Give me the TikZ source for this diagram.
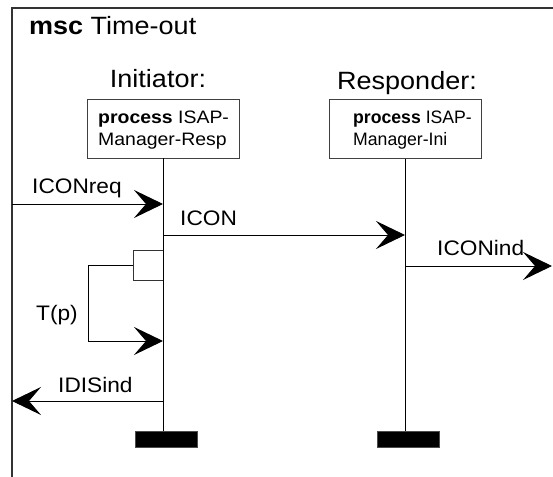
\documentclass[tikz,border=0pt]{standalone}
\usepackage{fontspec}
\usepackage{graphicx}
\setmainfont{Liberation Sans}
\usetikzlibrary{arrows.meta}
% lettering widened (or narrowed) horizontally
\newcommand\stretchx[2][1.08]{\scalebox{#1}[1]{#2}}

\begin{document}
\begin{tikzpicture}[x=1pt,y=-1pt,
  lbl/.style={inner sep=0pt, anchor=base west},
  clbl/.style={inner sep=0pt, anchor=base},
  big/.style={font=\fontsize{25}{30}\selectfont},
  mid/.style={font=\fontsize{21}{25}\selectfont},
  small/.style={font=\fontsize{18}{22}\selectfont},
  procbox/.style={draw=black!75, line width=0.9pt, minimum width=152pt,
    minimum height=59pt, inner sep=0pt},
  lifeline/.style={line width=0.9pt},
  msg/.style={line width=0.9pt, -{Stealth[length=29pt,width=28pt,inset=12pt]}},
  timerline/.style={line width=0.9pt, draw=black!80},
  endbar/.style={fill=black, draw=black!70, line width=0.5pt,
    minimum width=62pt, minimum height=16pt, inner sep=0pt},
]
\useasboundingbox (0,0) rectangle (553,476);

% diagram frame (open to the right and bottom)
\draw[line width=1.3pt, black!80] (560,8) -- (12,8) -- (12,480);
\node[lbl,big] (title) at (29,35) {\stretchx{\textbf{msc} Time-out}};

% instance heads
\node[clbl,big] (ininame) at (158,88) {\stretchx{Initiator:}};
\node[clbl,big] (respname) at (407,90) {\stretchx{Responder:}};
\node[procbox] (inibox) at (163,128.5) {};
\node[procbox] (respbox) at (405,129) {};
\node[lbl,small] (initxt1) at (98,123.5) {\stretchx{\textbf{process} ISAP-}};
\node[lbl,small] (initxt2) at (98,145) {\stretchx{Manager-Resp}};
\node[lbl,small] (resptxt1) at (353,123.5) {\stretchx[0.98]{\textbf{process} ISAP-}};
\node[lbl,small] (resptxt2) at (353,145) {\stretchx[0.98]{Manager-Ini}};

% instance ends
\node[endbar] (inibar) at (166,439.5) {};
\node[endbar] (respbar) at (408,439.5) {};

% lifelines
\draw[lifeline] (inibox.south) -- (inibox.south |- inibar.north);
\draw[lifeline] (respbox.south) -- (respbox.south |- respbar.north);

% points on frame and lifelines
\coordinate (envreq) at (12,204);
\coordinate (inireq) at (163,204);
\coordinate (iniicon) at (163,235);
\coordinate (respicon) at (405,235);
\coordinate (respind) at (405,266);
\coordinate (envind) at (552,266);
\coordinate (tset1) at (163,250);
\coordinate (tset2) at (133,250);
\coordinate (tset3) at (133,280);
\coordinate (tset4) at (163,280);
\coordinate (tstart) at (133,265);
\coordinate (tbend1) at (88,265);
\coordinate (tbend2) at (88,341);
\coordinate (tend) at (163,341);
\coordinate (inidis) at (163,401);
\coordinate (envdis) at (12,401);

% messages
\draw[msg] (envreq) -- (inireq);
\node[lbl,mid] (lreq) at (32,193) {\stretchx{ICONreq}};
\draw[msg] (iniicon) -- (respicon);
\node[lbl,mid] (licon) at (180,225) {\stretchx{ICON}};
\draw[msg] (respind) -- (envind);
\node[lbl,mid] (lind) at (437,255) {\stretchx{ICONind}};

% timer set and time-out
\draw[timerline] (tset1) -- (tset2) -- (tset3) -- (tset4);
\draw[msg] (tstart) -- (tbend1) -- (tbend2) -- (tend);
\node[lbl,mid] (ltimer) at (36,320) {\stretchx{T(p)}};

\draw[msg] (inidis) -- (envdis);
\node[lbl,mid] (ldis) at (58,392) {\stretchx{IDISind}};
\end{tikzpicture}
\end{document}
